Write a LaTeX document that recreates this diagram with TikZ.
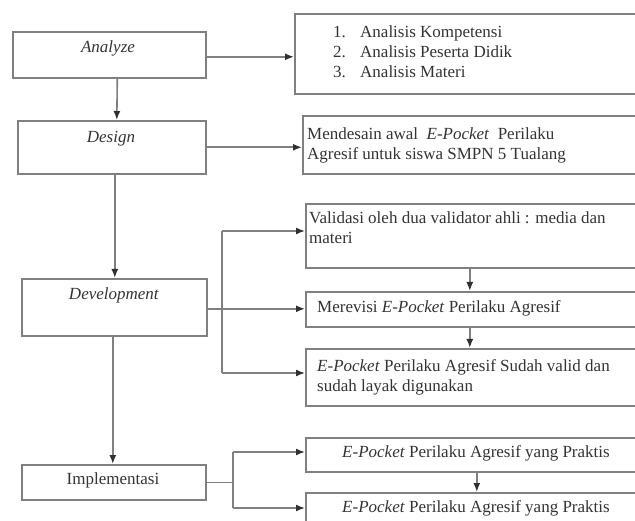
\documentclass[tikz,border=0pt]{standalone}
\usepackage{fontspec}
\setmainfont{Liberation Serif}
\usetikzlibrary{arrows.meta,calc}
\definecolor{lncol}{HTML}{808080}
\definecolor{tipcol}{HTML}{303030}
\definecolor{tx}{HTML}{333333}
\tikzset{
  box/.style={draw=lncol, line width=1.6pt, fill=none, inner sep=0pt, anchor=north west},
  lbl/.style={text=tx, inner sep=0pt, font=\fontsize{17}{20}\selectfont},
  arr/.style={draw=lncol, line width=1.6pt, -{Latex[length=9pt,width=7pt,color=tipcol]}},
  conn/.style={draw=lncol, line width=1.6pt},
}
\begin{document}
\begin{tikzpicture}[x=1pt,y=-1pt]
\useasboundingbox (0,0) rectangle (635,521);
% left boxes
\node[box, minimum width=193pt, minimum height=46pt] (analyze) at (12,31) {};
\node[box, minimum width=188pt, minimum height=53pt] (design) at (17,120) {};
\node[box, minimum width=185pt, minimum height=57pt] (devel) at (21,278) {};
\node[box, minimum width=184pt, minimum height=35pt] (impl) at (21,464) {};
% right boxes
\node[box, minimum width=346pt, minimum height=80pt] (list) at (294,13) {};
\node[box, minimum width=338pt, minimum height=58pt] (desr) at (302,115) {};
\node[box, minimum width=335pt, minimum height=64pt] (valid) at (305,203) {};
\node[box, minimum width=335pt, minimum height=35pt] (revisi) at (305,291) {};
\node[box, minimum width=335pt, minimum height=57pt] (sudah) at (305,348) {};
\node[box, minimum width=335pt, minimum height=34pt] (prak1) at (305,437) {};
\node[box, minimum width=335pt, minimum height=40pt] (prak2) at (305,492) {};
% left labels
\node[lbl] (tAnalyze) at (108,48) {\textit{Analyze}};
\node[lbl] (tDesign) at (111,139) {\textit{Design}};
\node[lbl] (tDevel) at (114,295) {\textit{Development}};
\node[lbl] (tImpl) at (113,480) {Implementasi};
% right labels
\node[lbl, anchor=west, align=left] (tList) at (333,51.5) {\makebox[27pt][l]{1.}Analisis Kompetensi\\\makebox[27pt][l]{2.}Analisis Peserta Didik\\\makebox[27pt][l]{3.}Analisis Materi};
\node[lbl, anchor=west, align=left] (tDesr) at (307,145) {Mendesain awal \ \textit{E-Pocket} \ Perilaku\\Agresif untuk siswa SMPN 5 Tualang};
\node[lbl, anchor=west, align=left] (tValid) at (309,228) {Validasi oleh dua validator ahli : media dan\\materi};
\node[lbl, anchor=west] (tRevisi) at (317,308) {Merevisi \textit{E-Pocket} Perilaku Agresif};
\node[lbl, anchor=west, align=left] (tSudah) at (317,377) {\textit{E-Pocket} Perilaku Agresif Sudah valid dan\\sudah layak digunakan};
\node[lbl] (tPrak1) at (476,453) {\textit{E-Pocket} Perilaku Agresif yang Praktis};
\node[lbl] (tPrak2) at (476,508) {\textit{E-Pocket} Perilaku Agresif yang Praktis};
% vertical main flow
\draw[arr] ([xshift=8pt]analyze.south) -- ([xshift=5pt]design.north);
\draw[arr] ([xshift=3pt]design.south) -- ([xshift=0.5pt]devel.north);
\draw[arr] ([xshift=-1.5pt]devel.south) -- ([xshift=-1pt]impl.north);
% horizontal
\draw[arr] ([yshift=-2pt]analyze.east) -- ([yshift=-2pt]analyze.east -| list.west);
\draw[arr] (design.east) -- (design.east -| desr.west);
\draw[arr] ([yshift=-1.5pt]devel.east) -- ([yshift=-1.5pt]devel.east -| revisi.west);
\coordinate (bd) at (222,308);
\draw[conn] (bd |- 0,231) -- (bd |- 0,373);
\draw[arr] (bd |- 0,231) -- (valid.west |- 0,231);
\draw[arr] (bd |- 0,373) -- (sudah.west |- 0,373);
\coordinate (bi) at (233,481.5);
\draw[conn] (impl.east) -- (impl.east -| bi);
\draw[conn] (bi |- 0,452) -- (bi |- 0,508);
\draw[arr] (bi |- 0,452) -- (prak1.west |- 0,452);
\draw[arr] (bi |- 0,508) -- (prak2.west |- 0,508);
% right vertical arrows
\draw[arr] ([xshift=-3.5pt]valid.south) -- ([xshift=-3.5pt]revisi.north);
\draw[arr] ([xshift=-3.5pt]revisi.south) -- ([xshift=-3.5pt]sudah.north);
\draw[arr] ([xshift=3.5pt]prak1.south) -- ([xshift=3.5pt]prak2.north);
\end{tikzpicture}
\end{document}
